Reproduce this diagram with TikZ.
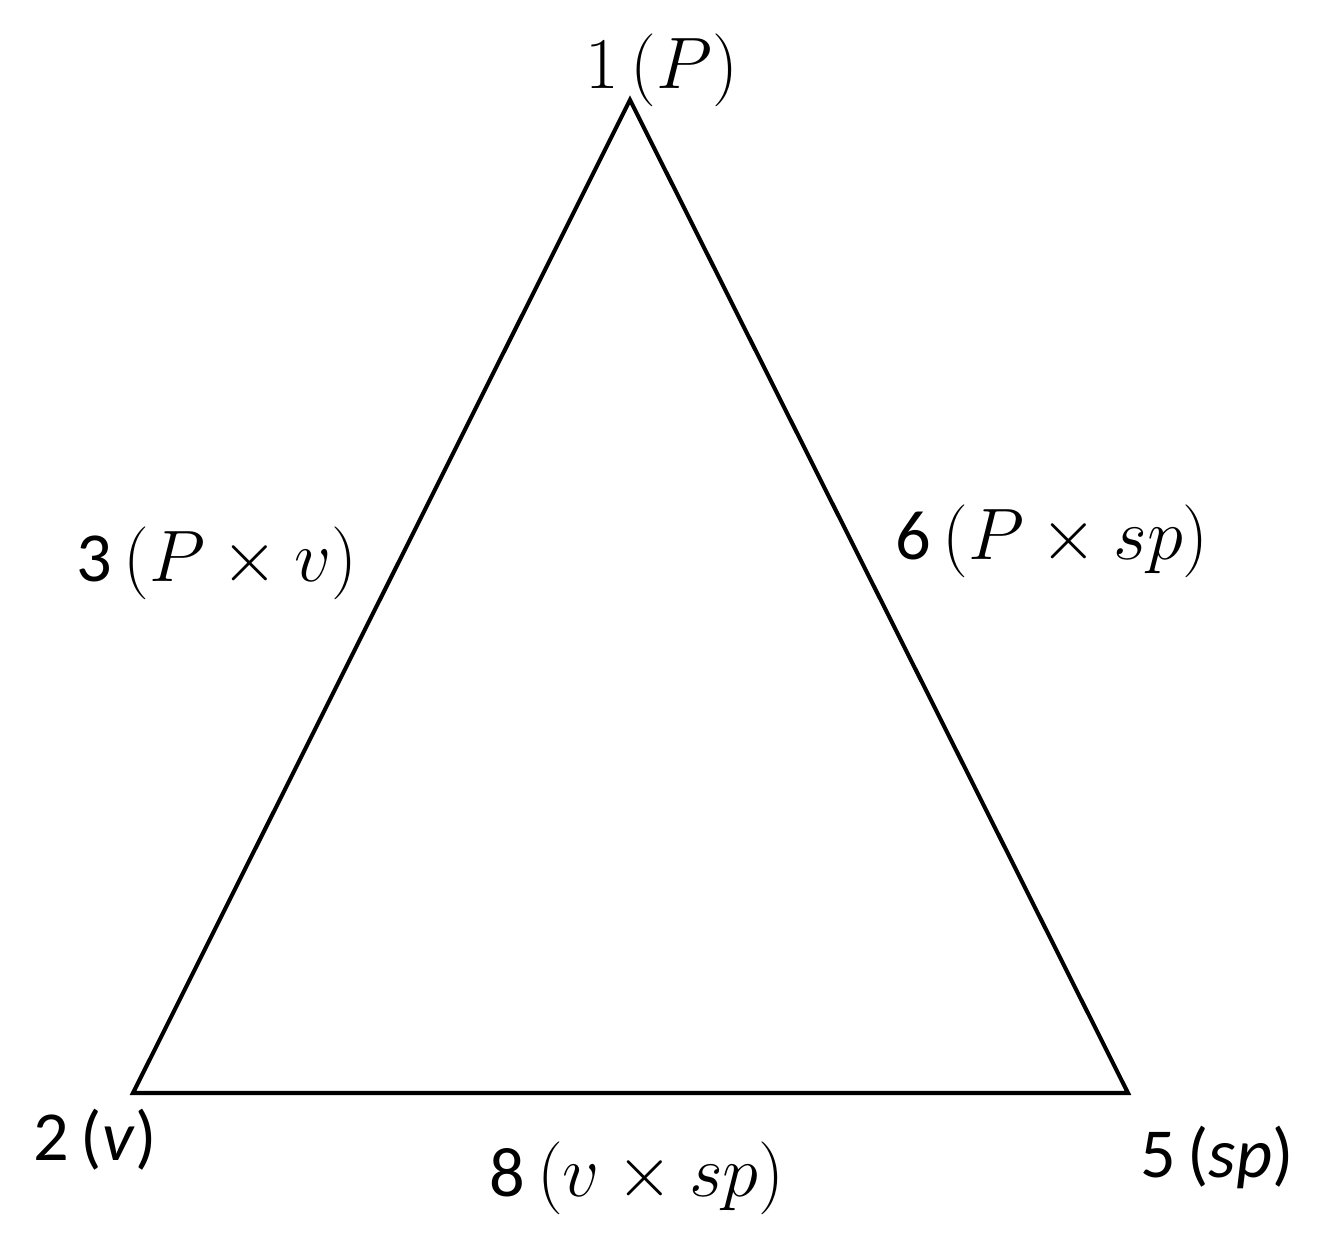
\documentclass[tikz,border=0pt]{standalone}
\usepackage{amsmath}
\usepackage{fontspec}
\setmainfont{Carlito}
\usepackage{tikz}
\usetikzlibrary{positioning}
\tikzset{lbl/.style = {inner sep = 0, font = \fontsize{20}{24}\selectfont}}

\begin{document}
\begin{tikzpicture}[x = 0.1mm, y = -0.1mm]
          \useasboundingbox (0, 0) rectangle (1328, 1244);
          \coordinate (top) at (630, 100);
          \coordinate (left) at (133, 1093);
          \coordinate (right) at (1128, 1093);
          \draw [line width = 1.15pt, line join = miter] (top) -- (left) -- (right) -- cycle;

          \node [lbl] (n1) at (662, 70) {$1\,(P)$};
          \node [lbl] (n3) at (217, 563) {3\,$(P \times v)$};
          \node [lbl] (n6) at (1052, 541) {6\,$(P \times sp)$};

          \node [lbl] (n2) at (95, 1140) {2\,(\textit{v})};
          \node [lbl] (n8) at (637, 1178) {8\,$(v \times sp)$};
          \node [lbl] (n5) at (1217, 1157) {5\,(\textit{sp})};
        \end{tikzpicture}
\end{document}
